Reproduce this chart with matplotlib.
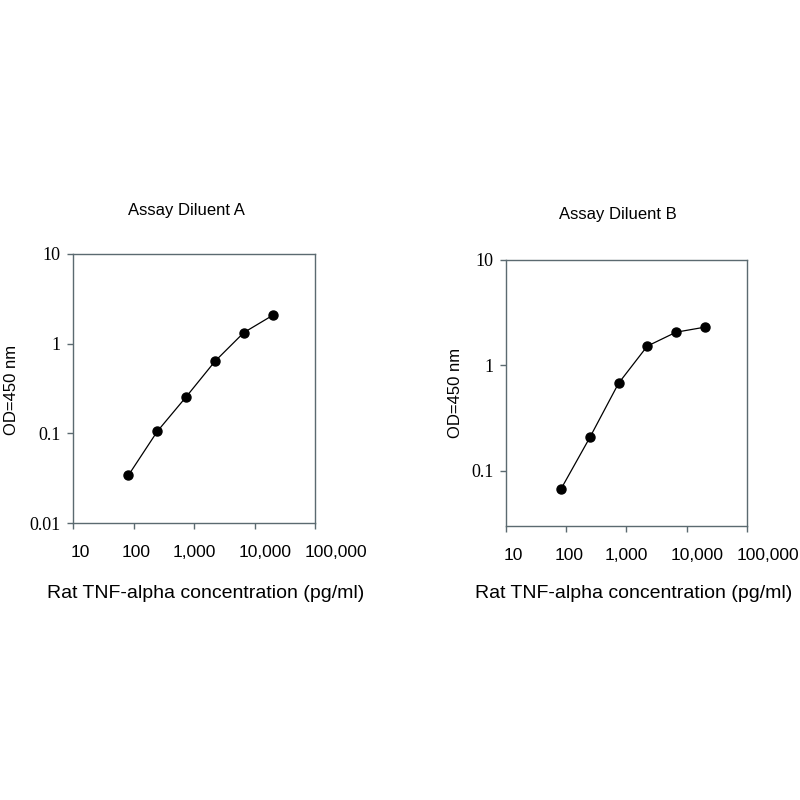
import matplotlib
matplotlib.use('Agg')
import matplotlib.pyplot as plt
import matplotlib.transforms as mtransforms
from matplotlib.ticker import FixedLocator, NullLocator

# standard curve: 3-fold dilution series (pg/ml)
conc = [82.3, 247, 741, 2222, 6667, 20000]
od_a = [0.034, 0.105, 0.255, 0.636, 1.33, 2.07]
od_b = [0.067, 0.206, 0.674, 1.52, 2.06, 2.30]

x_ticks = [10, 100, 1000, 10000, 100000]
x_labels = ['10', '100', '1,000', '10,000', '100,000']
y_ticks_a = [0.01, 0.1, 1, 10]
y_labels_a = ['0.01', '0.1', '1', '10']
y_ticks_b = [0.1, 1, 10]
y_labels_b = ['0.1', '1', '10']

titles = ['Assay Diluent A', 'Assay Diluent B']
xlabel = 'Rat TNF-alpha concentration (pg/ml)'
ylabel = 'OD=450 nm'

spine_col = '#5b6a70'
# the original x labels sit a little right of their ticks (pixels)
label_shift = [7.5, 3, 0, 11, 21]

fig = plt.figure(figsize=(8, 8), dpi=100)
fig.patch.set_facecolor('white')

ax_a = fig.add_axes([0.09125, 0.34625, 0.3025, 0.33625])
ax_b = fig.add_axes([0.6325, 0.3425, 0.301, 0.3325])


def style(ax, yt, yl, ylim):
    ax.set_xscale('log')
    ax.set_yscale('log')
    ax.set_xlim(10, 100000)
    ax.set_ylim(*ylim)
    ax.xaxis.set_major_locator(FixedLocator(x_ticks))
    ax.xaxis.set_minor_locator(NullLocator())
    ax.yaxis.set_major_locator(FixedLocator(yt))
    ax.yaxis.set_minor_locator(NullLocator())
    ax.set_xticklabels(x_labels, fontfamily='Liberation Sans', fontsize=12.5)
    ax.set_yticklabels(yl, fontfamily='Liberation Serif', fontsize=13)
    for s in ax.spines.values():
        s.set_color(spine_col)
        s.set_linewidth(1.0)
    ax.tick_params(axis='both', direction='out', length=4, width=1,
                   color=spine_col)
    ax.tick_params(axis='x', pad=12)
    ax.tick_params(axis='y', pad=5)
    for lab, dx in zip(ax.get_xticklabels(), label_shift):
        off = mtransforms.ScaledTranslation(dx / 100, 0, fig.dpi_scale_trans)
        lab.set_transform(lab.get_transform() + off)


style(ax_a, y_ticks_a, y_labels_a, (0.01, 10))
style(ax_b, y_ticks_b, y_labels_b, (0.0297, 10))

ax_a.plot(conc, od_a, color='black', lw=0.9, marker='o', ms=6.5,
          clip_on=False)
ax_b.plot(conc, od_b, color='black', lw=0.9, marker='o', ms=6.5,
          clip_on=False)

# titles and axis labels placed in figure coordinates
fig.text(186 / 800, 1 - 210 / 800, titles[0], ha='center', va='center',
         fontfamily='Liberation Sans', fontsize=12)
fig.text(618 / 800, 1 - 214 / 800, titles[1], ha='center', va='center',
         fontfamily='Liberation Sans', fontsize=12)
fig.text(206 / 800, 1 - 593 / 800, xlabel, ha='center', va='center',
         fontfamily='Liberation Sans', fontsize=14)
fig.text(634 / 800, 1 - 593 / 800, xlabel, ha='center', va='center',
         fontfamily='Liberation Sans', fontsize=14)
fig.text(12 / 800, 1 - 390 / 800, ylabel, ha='center', va='center',
         rotation=90, fontfamily='Liberation Sans', fontsize=12)
fig.text(455 / 800, 1 - 393 / 800, ylabel, ha='center', va='center',
         rotation=90, fontfamily='Liberation Sans', fontsize=12)

fig.savefig('out.png', dpi=100, facecolor='white')
